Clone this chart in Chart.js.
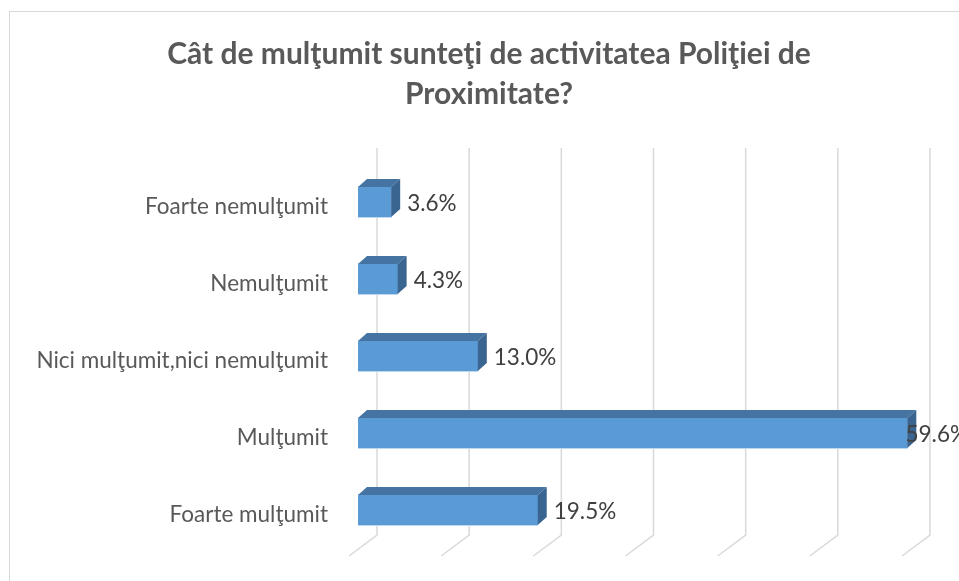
<!DOCTYPE html>
<html>
<head>
<meta charset="utf-8">
<script src="https://cdn.jsdelivr.net/npm/chart.js@4"></script>
<style>
  html, body { margin: 0; padding: 0; background: #fff; overflow: hidden; }
  #wrap { position: absolute; left: 9px; top: 11px; border: 1px solid #d9d9d9; background: #fff; }
  canvas { display: block; }
</style>
</head>
<body>
<div id="wrap"><canvas id="chart" width="958" height="569"></canvas></div>
<script>
// ------------------------
// Data
// ------------------------
const categories = [
  'Foarte nemulţumit',
  'Nemulţumit',
  'Nici mulţumit,nici nemulţumit',
  'Mulţumit',
  'Foarte mulţumit'
];
const values = [3.6, 4.3, 13.0, 59.6, 19.5];
const titleLines = ['Cât de mulţumit sunteţi de activitatea Poliţiei de', 'Proximitate?'];

// --- 3D look: back wall grid, bar top/side faces, value labels ---
const DEPTH_X = 9, DEPTH_Y = 8;

const bar3d = {
  id: 'bar3d',
  beforeDatasetsDraw(chart) {
    const ctx = chart.ctx, xs = chart.scales.x, a = chart.chartArea;
    ctx.save();
    ctx.strokeStyle = '#d9d9d9';
    ctx.lineWidth = 1.5;
    xs.ticks.forEach(t => {
      const px = xs.getPixelForValue(t.value);
      ctx.beginPath();
      ctx.moveTo(px + 19, a.top - 15.5);
      ctx.lineTo(px + 19, a.bottom - 13.5);
      ctx.lineTo(px - 9, a.bottom + 7.5);
      ctx.stroke();
    });
    ctx.restore();
  },
  afterDatasetsDraw(chart) {
    const ctx = chart.ctx;
    const meta = chart.getDatasetMeta(0);
    ctx.save();
    meta.data.forEach((bar, i) => {
      const top = bar.y - bar.height / 2, bottom = bar.y + bar.height / 2;
      // top face
      ctx.fillStyle = '#4574a3';
      ctx.beginPath();
      ctx.moveTo(bar.base, top);
      ctx.lineTo(bar.x, top);
      ctx.lineTo(bar.x + DEPTH_X, top - DEPTH_Y);
      ctx.lineTo(bar.base + DEPTH_X, top - DEPTH_Y);
      ctx.closePath();
      ctx.fill();
      // side face
      ctx.fillStyle = '#3b6591';
      ctx.beginPath();
      ctx.moveTo(bar.x, top);
      ctx.lineTo(bar.x + DEPTH_X, top - DEPTH_Y);
      ctx.lineTo(bar.x + DEPTH_X, bottom - DEPTH_Y);
      ctx.lineTo(bar.x, bottom);
      ctx.closePath();
      ctx.fill();
      // light bottom edge of front face
      ctx.strokeStyle = '#bdd7ee';
      ctx.lineWidth = 1;
      ctx.beginPath();
      ctx.moveTo(bar.base, bottom + 0.5);
      ctx.lineTo(bar.x, bottom + 0.5);
      ctx.stroke();

      // value label, kept inside the chart box
      const txt = values[i].toFixed(1) + '%';
      ctx.font = '22.5px Lato';
      ctx.fillStyle = '#404040';
      ctx.textBaseline = 'middle';
      ctx.textAlign = 'left';
      const w = ctx.measureText(txt).width;
      const lx = Math.min(bar.x + DEPTH_X + 7, chart.width - w);
      ctx.fillText(txt, lx, bar.y + 2);
    });
    ctx.restore();
  },
  // title is drawn here so it stays centred on the whole box
  afterDraw(chart) {
    const ctx = chart.ctx;
    ctx.save();
    ctx.font = 'bold 30px Lato';
    ctx.fillStyle = '#595959';
    ctx.textAlign = 'center';
    ctx.textBaseline = 'middle';
    titleLines.forEach((line, i) => {
      ctx.fillText(line, chart.width / 2, 42 + i * 40);
    });
    ctx.restore();
  }
};

new Chart(document.getElementById('chart'), {
  type: 'bar',
  data: {
    labels: categories,
    datasets: [{
      data: values,
      backgroundColor: '#5b9bd5',
      borderWidth: 0,
      barThickness: 30
    }]
  },
  options: {
    indexAxis: 'y',
    responsive: false,
    animation: false,
    devicePixelRatio: 1,
    layout: { padding: { top: 151.5, right: 57, bottom: 32.5, left: 0 } },
    plugins: {
      legend: { display: false },
      tooltip: { enabled: false },
      title: { display: false }
    },
    scales: {
      x: {
        display: false,
        min: 0,
        max: 60,
        ticks: { stepSize: 10 }
      },
      y: {
        grid: { display: false, drawTicks: false },
        border: { display: false },
        ticks: {
          color: '#595959',
          font: { family: 'Lato', size: 22.5 },
          padding: 30,
          labelOffset: 5
        },
        afterFit(scale) {
          scale.width = 348;
          // don't let the label padding shrink the plot height
          scale.paddingTop = 0;
          scale.paddingBottom = 0;
        }
      }
    }
  },
  plugins: [bar3d]
});
</script>
</body>
</html>
